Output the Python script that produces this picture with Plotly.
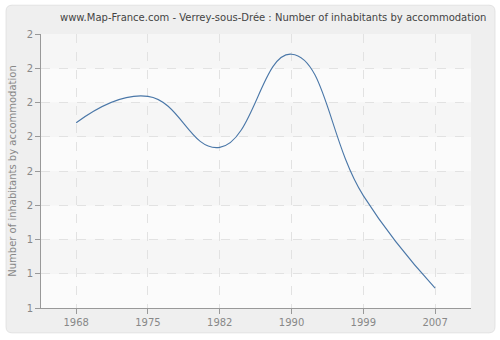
import plotly.graph_objects as go

years = ["1968", "1975", "1982", "1990", "1999", "2007"]
values = [1.741, 1.818, 1.669, 1.941, 1.528, 1.258]
tick_vals = [1.2, 1.3, 1.4, 1.5, 1.6, 1.7, 1.8, 1.9, 2.0]
tick_text = ["1", "1", "1", "2", "2", "2", "2", "2", "2"]

L, R, T, B = 40, 29, 34, 30
W, H = 500, 340
pw, ph = W - L - R, H - T - B

def px(x):
    return (x - L) / pw

def py(y):
    return (H - B - y) / ph

fig = go.Figure()
fig.add_trace(go.Scatter(
    x=years, y=values, mode="lines",
    line=dict(color="#4a77a8", width=1.1, shape="spline", smoothing=1.3),
    hoverinfo="skip", showlegend=False,
))

shapes = []
x0, x1, y0, y1 = px(5), px(495), py(335), py(5)
rx = 6 / pw
ry = 6 / ph
path = (f"M {x0+rx},{y0} L {x1-rx},{y0} Q {x1},{y0} {x1},{y0+ry} "
        f"L {x1},{y1-ry} Q {x1},{y1} {x1-rx},{y1} L {x0+rx},{y1} "
        f"Q {x0},{y1} {x0},{y1-ry} L {x0},{y0+ry} Q {x0},{y0} {x0+rx},{y0} Z")
shapes.append(dict(type="path", path=path, xref="paper", yref="paper",
                   fillcolor="#efefef", line=dict(color="#e2e2e2", width=1), layer="below"))
for i in range(len(tick_vals) - 1):
    col = "#f6f6f6" if (len(tick_vals) - 2 - i) % 2 == 0 else "#fbfbfb"
    shapes.append(dict(type="rect", xref="paper", yref="y", x0=0, x1=1,
                       y0=tick_vals[i], y1=tick_vals[i + 1],
                       fillcolor=col, line=dict(width=0), layer="below"))

fig.update_layout(
    width=W, height=H,
    margin=dict(l=L, r=R, t=T, b=B),
    paper_bgcolor="white",
    plot_bgcolor="rgba(0,0,0,0)",
    shapes=shapes,
    font=dict(family="DejaVu Sans, Verdana, sans-serif", size=10, color="#888888"),
    title=dict(text="www.Map-France.com - Verrey-sous-Drée : Number of inhabitants by accommodation",
               xref="container", x=0.12, xanchor="left", y=0.95, yanchor="middle",
               font=dict(size=10, color="#444444")),
    xaxis=dict(
        type="category", range=[-0.49, 5.5],
        showgrid=True, gridcolor="#e2e2e2", griddash="dash", gridwidth=1,
        showline=True, linecolor="#999999", linewidth=1,
        ticks="outside", ticklen=5, tickcolor="#999999",
        tickfont=dict(size=10, color="#888888"), zeroline=False,
    ),
    yaxis=dict(
        range=[1.2, 2.0], tickvals=tick_vals, ticktext=tick_text,
        showgrid=True, gridcolor="#e2e2e2", griddash="dash", gridwidth=1,
        showline=True, linecolor="#999999", linewidth=1,
        ticks="outside", ticklen=5, tickcolor="#999999",
        tickfont=dict(size=10, color="#888888"), zeroline=False,
        title=dict(text="Number of inhabitants by accommodation", standoff=8,
                   font=dict(size=10, color="#888888")),
    ),
)

fig.write_html("out.html")
